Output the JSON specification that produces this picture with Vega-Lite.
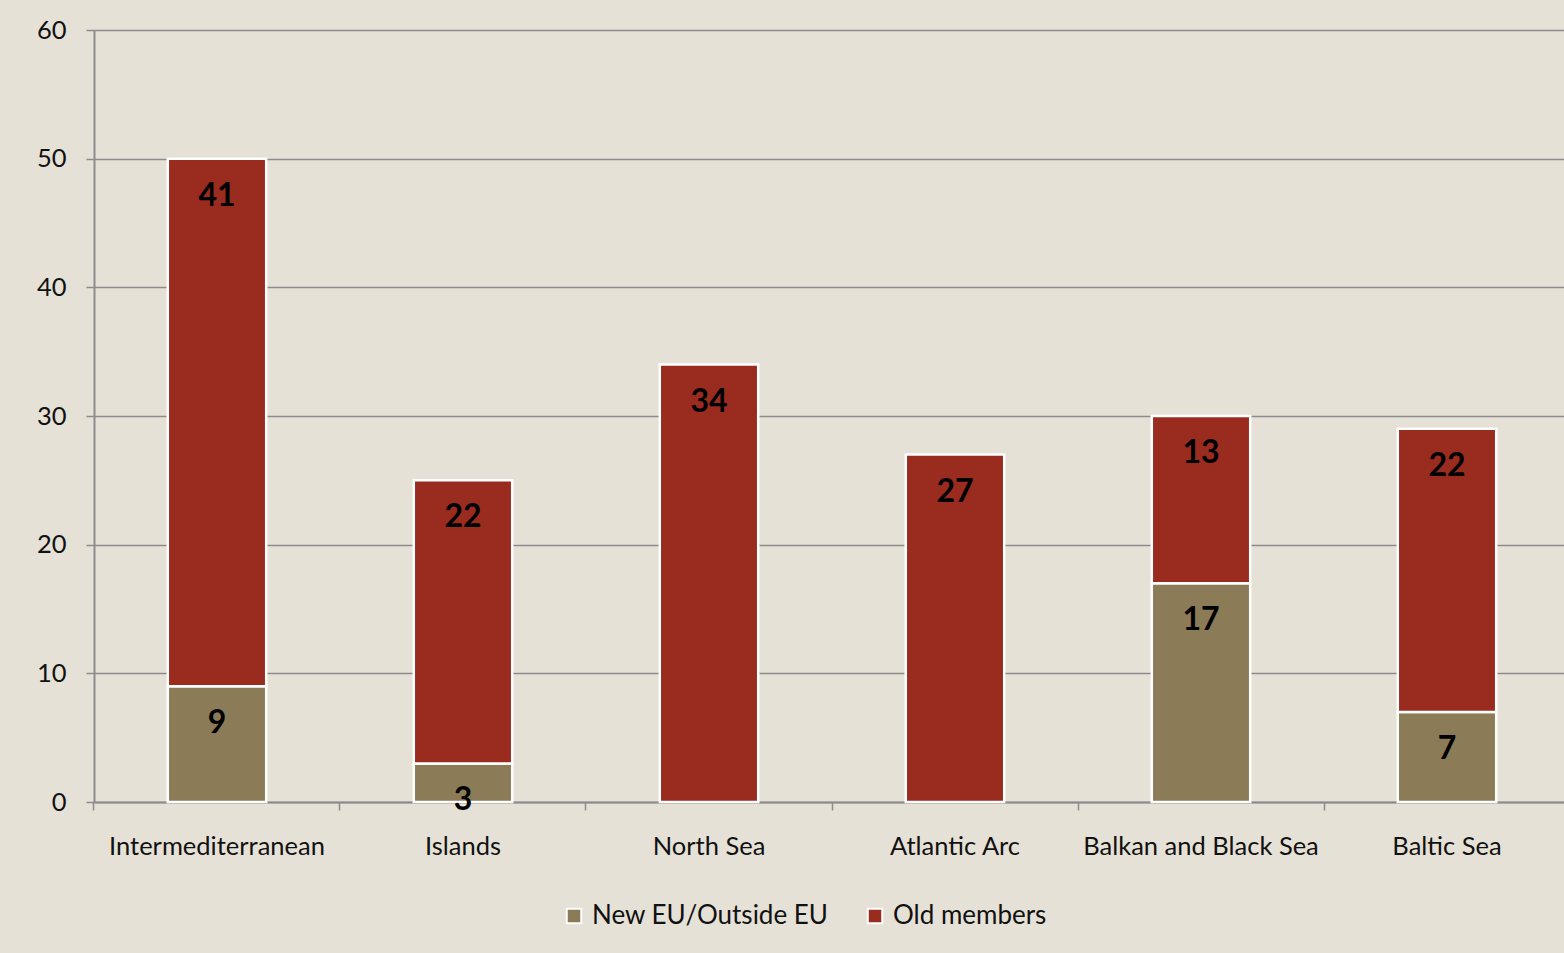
{
  "$schema": "https://vega.github.io/schema/vega-lite/v6.json",
  "width": 1476,
  "height": 772,
  "autosize": {"type": "none"},
  "padding": {"left": 94, "top": 30, "right": 0, "bottom": 151},
  "background": "#E6E1D6",
  "data": {
    "values": [
      {"region": "Intermediterranean", "group": "New EU/Outside EU", "value": 9},
      {"region": "Intermediterranean", "group": "Old members", "value": 41},
      {"region": "Islands", "group": "New EU/Outside EU", "value": 3},
      {"region": "Islands", "group": "Old members", "value": 22},
      {"region": "North Sea", "group": "Old members", "value": 34},
      {"region": "Atlantic Arc", "group": "Old members", "value": 27},
      {"region": "Balkan and Black Sea", "group": "New EU/Outside EU", "value": 17},
      {"region": "Balkan and Black Sea", "group": "Old members", "value": 13},
      {"region": "Baltic Sea", "group": "New EU/Outside EU", "value": 7},
      {"region": "Baltic Sea", "group": "Old members", "value": 22}
    ]
  },
  "transform": [
    {"calculate": "datum.group === 'New EU/Outside EU' ? 0 : 1", "as": "order"},
    {"stack": "value", "groupby": ["region"], "sort": [{"field": "order", "order": "ascending"}], "as": ["v0", "v1"]}
  ],
  "config": {
    "view": {"stroke": null},
    "font": "Lato",
    "axis": {"labelFont": "Lato", "labelColor": "#111111", "labelFontSize": 25.5}
  },
  "resolve": {"axis": {"x": "independent"}},
  "layer": [
    {
      "mark": {"type": "bar", "stroke": "white", "strokeWidth": 2.5},
      "encoding": {
        "x": {
          "field": "region",
          "type": "nominal",
          "sort": ["Intermediterranean", "Islands", "North Sea", "Atlantic Arc", "Balkan and Black Sea", "Baltic Sea"],
          "scale": {"paddingInner": 0.6, "paddingOuter": 0.3},
          "axis": {
            "title": null,
            "orient": "bottom",
            "labelAngle": 0,
            "ticks": false,
            "domainColor": "#8C8C8C",
            "domainWidth": 2,
            "labelPadding": 32,
            "labelBaseline": "top",
            "labelLimit": 500,
            "grid": false
          }
        },
        "y": {
          "field": "v0",
          "type": "quantitative",
          "scale": {"domain": [0, 60]},
          "axis": {
            "title": null,
            "values": [0, 10, 20, 30, 40, 50, 60],
            "tickSize": 8,
            "tickColor": "#8C8C8C",
            "tickWidth": 1.5,
            "domainColor": "#8C8C8C",
            "domainWidth": 2,
            "gridColor": "#8C8C8C",
            "gridWidth": 1.5,
            "labelPadding": 20
          }
        },
        "y2": {"field": "v1"},
        "color": {
          "field": "group",
          "type": "nominal",
          "scale": {"domain": ["New EU/Outside EU", "Old members"], "range": ["#8B7B57", "#9A2B1F"]},
          "legend": {
            "title": null,
            "orient": "none",
            "direction": "horizontal",
            "legendX": 467,
            "legendY": 873,
            "symbolType": "square",
            "symbolSize": 210,
            "symbolStrokeColor": "white",
            "symbolStrokeWidth": 2,
            "symbolOpacity": 1,
            "labelFont": "Lato",
            "labelFontSize": 26,
            "labelColor": "#111111",
            "labelOffset": 5,
            "columnPadding": 33,
            "labelLimit": 400
          }
        }
      }
    },
    {
      "mark": {"type": "text", "font": "Lato", "fontWeight": "bold", "fontSize": 32, "color": "black", "baseline": "alphabetic", "dy": 47},
      "encoding": {
        "x": {
          "field": "region",
          "type": "nominal",
          "sort": ["Intermediterranean", "Islands", "North Sea", "Atlantic Arc", "Balkan and Black Sea", "Baltic Sea"],
          "axis": {
            "title": null,
            "orient": "bottom",
            "labels": false,
            "domain": false,
            "grid": false,
            "bandPosition": -0.75,
            "tickSize": 8,
            "tickColor": "#8C8C8C",
            "tickWidth": 1.5
          }
        },
        "y": {"field": "v1", "type": "quantitative"},
        "text": {"field": "value", "type": "quantitative"}
      }
    }
  ]
}
